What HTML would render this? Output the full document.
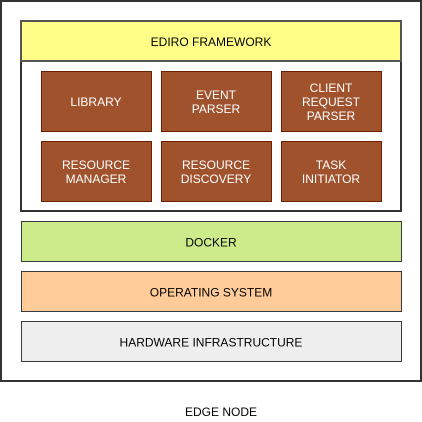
<!DOCTYPE html>
<html><head><style>body{margin:0;background:#fff}svg{display:block}text{font-family:"Liberation Sans",Arial,sans-serif;font-size:12px;text-anchor:middle;dominant-baseline:central}</style></head><body>
<svg width="422" height="422" xmlns="http://www.w3.org/2000/svg">
<rect x="1" y="1" width="420" height="380" fill="#fff" stroke="#333" stroke-width="2"/>
<rect x="21" y="21" width="380" height="190" fill="#fff" stroke="#333" stroke-width="2"/>
<rect x="21" y="21" width="380" height="40" fill="#ffff88" stroke="#555" stroke-width="2"/>
<text x="211" y="42">EDIRO FRAMEWORK</text>
<g fill="#a0522d" stroke="#6d1f00" stroke-width="1">
<rect x="41.5" y="71.5" width="110" height="60"/><rect x="161.5" y="71.5" width="110" height="60"/><rect x="281.5" y="71.5" width="100" height="60"/>
<rect x="41.5" y="141.5" width="110" height="60"/><rect x="161.5" y="141.5" width="110" height="60"/><rect x="281.5" y="141.5" width="100" height="60"/>
</g>
<g fill="#fff">
<text x="96" y="102">LIBRARY</text>
<text x="216" y="95">EVENT</text><text x="216" y="109">PARSER</text>
<text x="331" y="88">CLIENT</text><text x="331" y="102">REQUEST</text><text x="331" y="116">PARSER</text>
<text x="96" y="165">RESOURCE</text><text x="96" y="179">MANAGER</text>
<text x="216" y="165">RESOURCE</text><text x="216" y="179">DISCOVERY</text>
<text x="331" y="165">TASK</text><text x="331" y="179">INITIATOR</text>
</g>
<rect x="21.5" y="221.5" width="380" height="40" fill="#cdeb8b" stroke="#36393d"/>
<text x="211" y="242.5">DOCKER</text>
<rect x="21.5" y="271.5" width="380" height="40" fill="#ffcc99" stroke="#36393d"/>
<text x="211" y="292.5">OPERATING SYSTEM</text>
<rect x="21.5" y="321.5" width="380" height="40" fill="#eeeeee" stroke="#36393d"/>
<text x="211" y="342.5">HARDWARE INFRASTRUCTURE</text>
<text x="221" y="412">EDGE NODE</text>
</svg>
</body></html>
